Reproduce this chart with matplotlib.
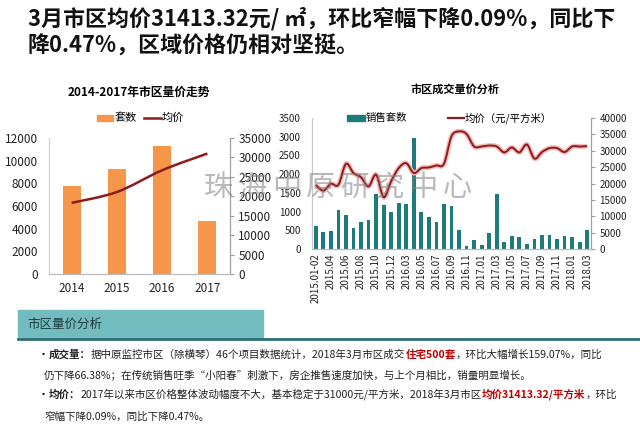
import matplotlib
matplotlib.use('Agg')
import matplotlib.pyplot as plt
import matplotlib.patheffects as pe
from matplotlib.patches import Rectangle, PathPatch
from matplotlib.lines import Line2D
from matplotlib.path import Path

plt.rcParams['font.family'] = ['Noto Sans CJK SC', 'DejaVu Sans']

# ---- data ----
years = ['2014', '2015', '2016', '2017']
units_year = [7800, 9300, 11300, 4700]
price_year = [18300, 21100, 26700, 31000]

months = ['2015.01-02', '2015.03', '2015.04', '2015.05', '2015.06', '2015.07',
          '2015.08', '2015.09', '2015.10', '2015.11', '2015.12',
          '2016.01-02', '2016.03', '2016.04', '2016.05', '2016.06', '2016.07',
          '2016.08', '2016.09', '2016.10', '2016.11', '2016.12',
          '2017.01', '2017.02', '2017.03', '2017.04', '2017.05', '2017.06',
          '2017.07', '2017.08', '2017.09', '2017.10', '2017.11', '2017.12',
          '2018.01', '2018.02', '2018.03']
units_month = [623, 445, 480, 1033, 908, 570, 730, 766, 1478, 1175, 997,
               1229, 1211, 2965, 997, 855, 730, 1211, 1150, 508, 80, 230,
               116, 420, 1478, 196, 347, 320, 142, 258, 374, 365, 267, 347,
               330, 196, 500]
price_month = [19600, 17800, 19900, 19600, 26000, 23200, 21900, 19100, 22700,
               15800, 20700, 24700, 26200, 23200, 24700, 24900, 25500, 26000,
               34400, 35900, 35100, 31300, 31300, 31600, 31300, 29500, 31000,
               29500, 31900, 27600, 29600, 30800, 30800, 29600, 31300, 31300,
               31400]

W, H = 640, 426
fig = plt.figure(figsize=(6.4, 4.26), dpi=100)
fig.patch.set_facecolor('white')


def fx(px):
    return px / W


def fy(py):
    return 1 - py / H


def smooth_path(xs, ys):
    # bezier through the points, like Excel's smoothed line
    pts = list(zip(xs, ys))
    verts = [pts[0]]
    codes = [Path.MOVETO]
    n = len(pts)
    for i in range(n - 1):
        p0 = pts[i - 1] if i > 0 else pts[i]
        p1 = pts[i]
        p2 = pts[i + 1]
        p3 = pts[i + 2] if i + 2 < n else pts[i + 1]
        c1 = (p1[0] + (p2[0] - p0[0]) / 6, p1[1] + (p2[1] - p0[1]) / 6)
        c2 = (p2[0] - (p3[0] - p1[0]) / 6, p2[1] - (p3[1] - p1[1]) / 6)
        verts += [c1, c2, p2]
        codes += [Path.CURVE4] * 3
    return Path(verts, codes)


# ---- headline ----
fig.text(fx(28), fy(19), '3月市区均价31413.32元/ ㎡，环比窄幅下降0.09%，同比下',
         fontsize=15.8, fontweight='bold', va='center', color='#111111')
fig.text(fx(28), fy(46), '降0.47%，区域价格仍相对坚挺。',
         fontsize=15.8, fontweight='bold', va='center', color='#111111')

# ---- left chart ----
orange = '#F5964A'
darkred = '#8E1B1B'
ax1 = fig.add_axes([fx(49), fy(274), fx(230 - 49), (274 - 138) / H])
x1 = list(range(len(years)))
ax1.bar(x1, units_year, width=0.4, color=orange, zorder=2)
ax1.set_xlim(-0.5, 3.5)
ax1.set_ylim(0, 12000)
ax1.set_yticks(range(0, 12001, 2000))
ax1.set_xticks(x1)
ax1.set_xticklabels(years)
ax1.tick_params(axis='both', length=0, labelsize=8.5, colors='#222222')
ax1.tick_params(axis='y', pad=8)
ax1.tick_params(axis='x', pad=6)
ax1b = ax1.twinx()
ax1b.set_ylim(0, 35000)
ax1b.set_yticks(range(0, 35001, 5000))
ax1b.tick_params(axis='y', length=3, labelsize=8.5, colors='#222222',
                 color='#A0A0A0', pad=3)
ax1b.add_patch(PathPatch(smooth_path(x1, price_year), fill=False,
                         edgecolor=darkred, lw=1.8, zorder=3))
for a in (ax1, ax1b):
    a.spines['top'].set_visible(False)
    a.spines['left'].set_color('#D0D0D0')
    a.spines['right'].set_color('#A0A0A0')
    a.spines['bottom'].set_color('#BBBBBB')
    a.set_facecolor('none')

fig.text(fx(139), fy(92), '2014-2017年市区量价走势', fontsize=8.5,
         fontweight='bold', ha='center', va='center')
fig.add_artist(Rectangle((fx(97), fy(121)), fx(16), 6 / H, color=orange,
                         transform=fig.transFigure))
fig.text(fx(115), fy(118), '套数', fontsize=8, va='center')
fig.add_artist(Line2D([fx(144), fx(161)], [fy(118), fy(118)], color=darkred,
                      lw=1.8, transform=fig.transFigure))
fig.text(fx(162), fy(118), '均价', fontsize=8, va='center')

# ---- right chart ----
teal = '#1F7B7B'
ax2 = fig.add_axes([fx(312), fy(249), fx(591 - 312), (249 - 118) / H])
x2 = list(range(len(months)))
ax2.bar(x2, units_month, width=0.5, color=teal, zorder=2)
ax2.set_xlim(-0.5, len(months) - 0.5)
ax2.set_ylim(0, 3500)
ax2.set_yticks(range(0, 3501, 500))
ax2.set_xticks(x2[::2])
ax2.set_xticklabels(months[::2], rotation=90)
ax2.tick_params(axis='both', length=0, labelsize=7, colors='#222222')
ax2.tick_params(axis='y', pad=8)
ax2.tick_params(axis='x', pad=3)
ax2b = ax2.twinx()
ax2b.set_ylim(0, 40000)
ax2b.set_yticks(range(0, 40001, 5000))
ax2b.tick_params(axis='y', length=3, labelsize=7, colors='#222222',
                 color='#A0A0A0', pad=3)
ax2b.add_patch(PathPatch(smooth_path(x2, price_month), fill=False,
                         edgecolor=darkred, lw=1.4, zorder=3,
                         path_effects=[pe.withStroke(linewidth=3.5,
                                                     foreground='#F2B9B9')]))
for a in (ax2, ax2b):
    a.spines['top'].set_visible(False)
    a.spines['left'].set_color('#C8C8C8')
    a.spines['right'].set_color('#A0A0A0')
    a.spines['bottom'].set_color('#BBBBBB')
    a.set_facecolor('none')

fig.text(fx(455), fy(89), '市区成交量价分析', fontsize=8,
         fontweight='bold', ha='center', va='center')
fig.add_artist(Rectangle((fx(347), fy(121)), fx(18), 6 / H, color=teal,
                         transform=fig.transFigure))
fig.text(fx(366), fy(118), '销售套数', fontsize=7.5, va='center')
fig.add_artist(Line2D([fx(448), fx(464)], [fy(118), fy(118)], color=darkred,
                      lw=1.6, transform=fig.transFigure))
fig.text(fx(465), fy(118), '均价（元/平方米）', fontsize=7.5, va='center')

# ---- watermark ----
for i, ch in enumerate('珠海中原研究中心'):
    fig.text(fx(218 + i * 34.2), fy(188), ch, fontsize=21, color='#808080',
             alpha=0.55, fontweight='light', ha='center', va='center',
             zorder=10)

# ---- analysis box ----
fig.add_artist(Rectangle((fx(18), fy(338)), fx(263 - 18), (338 - 310) / H,
                         color='#72BCC0', transform=fig.transFigure))
fig.add_artist(Line2D([fx(18), fx(640)], [fy(339), fy(339)], color='#2D6E75',
                      lw=2, transform=fig.transFigure))
fig.text(fx(27), fy(324), '市区量价分析', fontsize=9, va='center',
         color='#1E3A3E')


def run(x, y, parts, size=7.6):
    # consecutive text pieces, each starting where the previous one ended
    t = fig.text(fx(x), fy(y), parts[0][0], fontsize=size, color=parts[0][1],
                 fontweight=parts[0][2], va='baseline')
    for txt, color, weight in parts[1:]:
        t = ax1.annotate(txt, xy=(1, 0), xycoords=t, xytext=(0, 0),
                         textcoords='offset points', fontsize=size,
                         color=color, fontweight=weight, va='bottom',
                         ha='left', annotation_clip=False)
    return t


dark = '#222222'
red = '#C00000'
fig.text(fx(43), fy(355), '•', fontsize=8, va='center', ha='center')
run(49, 358, [('成交量：', dark, 'bold'),
              ('据中原监控市区（除横琴）46个项目数据统计，2018年3月市区成交', dark, 'normal'),
              ('住宅500套', red, 'bold'),
              ('，环比大幅增长159.07%，同比', dark, 'normal')])
fig.text(fx(44), fy(375), '仍下降66.38%；在传统销售旺季“小阳春”刺激下，房企推售速度加快，与上个月相比，销量明显增长。',
         fontsize=7.6, va='center', color=dark)
fig.text(fx(43), fy(395), '•', fontsize=8, va='center', ha='center')
run(49, 398, [('均价：', dark, 'bold'),
              ('2017年以来市区价格整体波动幅度不大，基本稳定于31000元/平方米，2018年3月市区', dark, 'normal'),
              ('均价31413.32/平方米', red, 'bold'),
              ('，环比', dark, 'normal')])
fig.text(fx(44), fy(417), '窄幅下降0.09%，同比下降0.47%。', fontsize=7.6,
         va='center', color=dark)

fig.savefig('out.png', dpi=100, facecolor='white')
